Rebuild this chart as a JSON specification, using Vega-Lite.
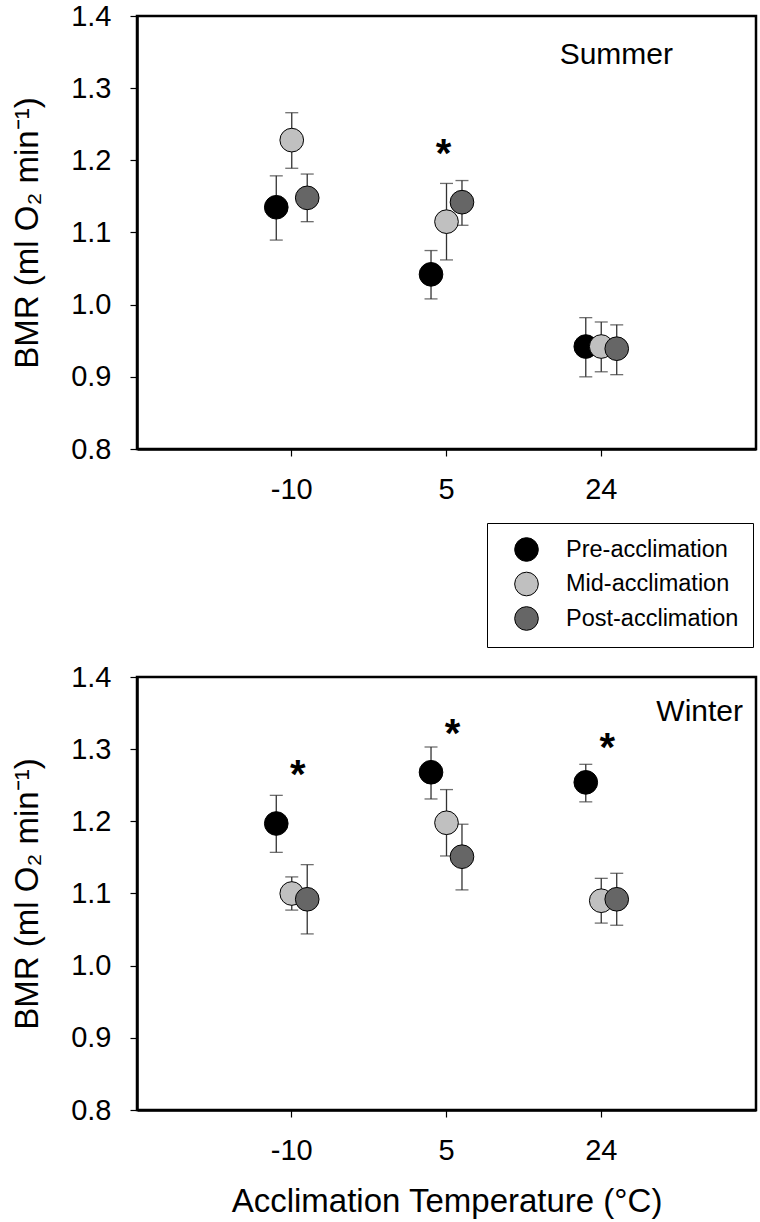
{
  "$schema": "https://vega.github.io/schema/vega-lite/v6.json",
  "autosize": {"type": "pad"},
  "padding": {"left": 10, "top": 0, "right": 2, "bottom": 5},
  "background": "white",
  "config": {
    "font": "Liberation Sans",
    "view": {"stroke": "black", "strokeWidth": 2.5},
    "axis": {
      "domainColor": "black", "domainWidth": 2.5, "tickColor": "black", "tickWidth": 1.2, "tickSize": 7,
      "labelFont": "Liberation Sans", "labelFontSize": 29, "labelColor": "black",
      "titleFont": "Liberation Sans", "titleFontSize": 33, "titleFontWeight": "normal", "titleColor": "black",
      "grid": false
    },
    "title": {"font": "Liberation Sans", "fontSize": 30, "fontWeight": "normal", "color": "black"}
  },
  "datasets": {
    "pts": [
      {"season": "Summer", "temp": "-10", "phase": "Pre-acclimation", "bmr": 1.135, "lo": 1.0895, "hi": 1.1785},
      {"season": "Summer", "temp": "-10", "phase": "Mid-acclimation", "bmr": 1.228, "lo": 1.189, "hi": 1.266},
      {"season": "Summer", "temp": "-10", "phase": "Post-acclimation", "bmr": 1.148, "lo": 1.115, "hi": 1.181},
      {"season": "Summer", "temp": "5", "phase": "Pre-acclimation", "bmr": 1.042, "lo": 1.008, "hi": 1.075},
      {"season": "Summer", "temp": "5", "phase": "Mid-acclimation", "bmr": 1.115, "lo": 1.062, "hi": 1.168},
      {"season": "Summer", "temp": "5", "phase": "Post-acclimation", "bmr": 1.142, "lo": 1.110, "hi": 1.172},
      {"season": "Summer", "temp": "24", "phase": "Pre-acclimation", "bmr": 0.942, "lo": 0.900, "hi": 0.982},
      {"season": "Summer", "temp": "24", "phase": "Mid-acclimation", "bmr": 0.942, "lo": 0.907, "hi": 0.976},
      {"season": "Summer", "temp": "24", "phase": "Post-acclimation", "bmr": 0.939, "lo": 0.903, "hi": 0.972},
      {"season": "Winter", "temp": "-10", "phase": "Pre-acclimation", "bmr": 1.197, "lo": 1.157, "hi": 1.236},
      {"season": "Winter", "temp": "-10", "phase": "Mid-acclimation", "bmr": 1.100, "lo": 1.077, "hi": 1.123},
      {"season": "Winter", "temp": "-10", "phase": "Post-acclimation", "bmr": 1.092, "lo": 1.044, "hi": 1.140},
      {"season": "Winter", "temp": "5", "phase": "Pre-acclimation", "bmr": 1.268, "lo": 1.231, "hi": 1.303},
      {"season": "Winter", "temp": "5", "phase": "Mid-acclimation", "bmr": 1.198, "lo": 1.152, "hi": 1.244},
      {"season": "Winter", "temp": "5", "phase": "Post-acclimation", "bmr": 1.151, "lo": 1.105, "hi": 1.196},
      {"season": "Winter", "temp": "24", "phase": "Pre-acclimation", "bmr": 1.254, "lo": 1.227, "hi": 1.279},
      {"season": "Winter", "temp": "24", "phase": "Mid-acclimation", "bmr": 1.090, "lo": 1.059, "hi": 1.121},
      {"season": "Winter", "temp": "24", "phase": "Post-acclimation", "bmr": 1.092, "lo": 1.056, "hi": 1.128}
    ],
    "stars": [
      {"season": "Summer", "temp": "5", "y": 1.217},
      {"season": "Winter", "temp": "-10", "y": 1.273},
      {"season": "Winter", "temp": "5", "y": 1.329},
      {"season": "Winter", "temp": "24", "y": 1.310}
    ]
  },
  "bounds": "flush",
  "spacing": 228,
  "resolve": {"scale": {"fill": "independent"}, "legend": {"fill": "independent"}},
  "vconcat": [
    {
      "width": 619, "height": 433,
      "title": {"text": "Summer", "orient": "top", "anchor": "end", "frame": "group", "offset": -48, "dx": -83, "dy": 44, "baseline": "alphabetic"},
      "layer": [
        {
          "data": {"name": "pts"},
          "transform": [{"filter": "datum.season == 'Summer'"}],
          "mark": {"type": "rule", "color": "#333333", "strokeWidth": 1.3},
          "encoding": {
            "x": {"field": "temp", "type": "nominal", "sort": null, "scale": {"paddingInner": 0.7, "paddingOuter": 0.85},
                  "axis": {"title": null, "labelAngle": 0, "labelPadding": 19}},
            "xOffset": {"field": "phase", "type": "nominal", "sort": null, "scale": {"paddingInner": 0, "paddingOuter": 0}},
            "y": {"field": "lo", "type": "quantitative", "scale": {"domain": [0.8, 1.4], "nice": false, "zero": false},
                  "axis": {"values": [0.8, 0.9, 1.0, 1.1, 1.2, 1.3, 1.4], "format": ".1f", "labelPadding": 19, "title": "BMR (ml O₂ min⁻¹)", "titlePadding": 26}},
            "y2": {"field": "hi"}
          }
        },
        {
          "data": {"name": "pts"},
          "transform": [{"filter": "datum.season == 'Summer'"}],
          "mark": {"type": "tick", "orient": "horizontal", "color": "#333333", "thickness": 1.3, "size": 13},
          "encoding": {
            "x": {"field": "temp", "type": "nominal", "sort": null},
            "xOffset": {"field": "phase", "type": "nominal", "sort": null},
            "y": {"field": "hi", "type": "quantitative"}
          }
        },
        {
          "data": {"name": "pts"},
          "transform": [{"filter": "datum.season == 'Summer'"}],
          "mark": {"type": "tick", "orient": "horizontal", "color": "#333333", "thickness": 1.3, "size": 13},
          "encoding": {
            "x": {"field": "temp", "type": "nominal", "sort": null},
            "xOffset": {"field": "phase", "type": "nominal", "sort": null},
            "y": {"field": "lo", "type": "quantitative"}
          }
        },
        {
          "data": {"name": "pts"},
          "transform": [{"filter": "datum.season == 'Summer'"}],
          "mark": {"type": "point", "shape": "circle", "filled": true, "size": 560, "stroke": "black", "strokeWidth": 1, "opacity": 1},
          "encoding": {
            "x": {"field": "temp", "type": "nominal", "sort": null},
            "xOffset": {"field": "phase", "type": "nominal", "sort": null},
            "y": {"field": "bmr", "type": "quantitative"},
            "fill": {"field": "phase", "type": "nominal",
                     "scale": {"domain": ["Pre-acclimation", "Mid-acclimation", "Post-acclimation"], "range": ["#000000", "#c0c0c0", "#666666"]},
                     "legend": {"orient": "none", "legendX": 350, "legendY": 507, "title": null,
                                "strokeColor": "black", "fillColor": "white", "padding": 14,
                                "labelFont": "Liberation Sans", "labelFontSize": 23.5, "labelColor": "black", "labelLimit": 0,
                                "symbolType": "circle", "symbolSize": 560, "symbolStrokeColor": "black", "symbolStrokeWidth": 1,
                                "labelOffset": 27, "rowPadding": 5.5, "symbolOffset": 13}}
          }
        },
        {
          "data": {"name": "stars"},
          "transform": [{"filter": "datum.season == 'Summer'"}],
          "mark": {"type": "text", "text": "*", "fontSize": 40, "fontWeight": "bold", "baseline": "alphabetic", "dy": 19, "dx": -3, "color": "black"},
          "encoding": {
            "x": {"field": "temp", "type": "nominal", "sort": null},
            "y": {"field": "y", "type": "quantitative"}
          }
        }
      ]
    },
    {
      "width": 619, "height": 433,
      "title": {"text": "Winter", "orient": "top", "anchor": "end", "frame": "group", "offset": -46, "dx": -13, "dy": 42, "baseline": "alphabetic"},
      "layer": [
        {
          "data": {"name": "pts"},
          "transform": [{"filter": "datum.season == 'Winter'"}],
          "mark": {"type": "rule", "color": "#333333", "strokeWidth": 1.3},
          "encoding": {
            "x": {"field": "temp", "type": "nominal", "sort": null, "scale": {"paddingInner": 0.7, "paddingOuter": 0.85},
                  "axis": {"title": "Acclimation Temperature (°C)", "labelAngle": 0, "labelPadding": 19, "titlePadding": 20}},
            "xOffset": {"field": "phase", "type": "nominal", "sort": null, "scale": {"paddingInner": 0, "paddingOuter": 0}},
            "y": {"field": "lo", "type": "quantitative", "scale": {"domain": [0.8, 1.4], "nice": false, "zero": false},
                  "axis": {"values": [0.8, 0.9, 1.0, 1.1, 1.2, 1.3, 1.4], "format": ".1f", "labelPadding": 19, "title": "BMR (ml O₂ min⁻¹)", "titlePadding": 26}},
            "y2": {"field": "hi"}
          }
        },
        {
          "data": {"name": "pts"},
          "transform": [{"filter": "datum.season == 'Winter'"}],
          "mark": {"type": "tick", "orient": "horizontal", "color": "#333333", "thickness": 1.3, "size": 13},
          "encoding": {
            "x": {"field": "temp", "type": "nominal", "sort": null},
            "xOffset": {"field": "phase", "type": "nominal", "sort": null},
            "y": {"field": "hi", "type": "quantitative"}
          }
        },
        {
          "data": {"name": "pts"},
          "transform": [{"filter": "datum.season == 'Winter'"}],
          "mark": {"type": "tick", "orient": "horizontal", "color": "#333333", "thickness": 1.3, "size": 13},
          "encoding": {
            "x": {"field": "temp", "type": "nominal", "sort": null},
            "xOffset": {"field": "phase", "type": "nominal", "sort": null},
            "y": {"field": "lo", "type": "quantitative"}
          }
        },
        {
          "data": {"name": "pts"},
          "transform": [{"filter": "datum.season == 'Winter'"}],
          "mark": {"type": "point", "shape": "circle", "filled": true, "size": 560, "stroke": "black", "strokeWidth": 1, "opacity": 1},
          "encoding": {
            "x": {"field": "temp", "type": "nominal", "sort": null},
            "xOffset": {"field": "phase", "type": "nominal", "sort": null},
            "y": {"field": "bmr", "type": "quantitative"},
            "fill": {"field": "phase", "type": "nominal",
                     "scale": {"domain": ["Pre-acclimation", "Mid-acclimation", "Post-acclimation"], "range": ["#000000", "#c0c0c0", "#666666"]},
                     "legend": null}
          }
        },
        {
          "data": {"name": "stars"},
          "transform": [{"filter": "datum.season == 'Winter'"}],
          "mark": {"type": "text", "text": "*", "fontSize": 40, "fontWeight": "bold", "baseline": "alphabetic", "dy": 19, "dx": 6, "color": "black"},
          "encoding": {
            "x": {"field": "temp", "type": "nominal", "sort": null},
            "y": {"field": "y", "type": "quantitative"}
          }
        }
      ]
    }
  ]
}
